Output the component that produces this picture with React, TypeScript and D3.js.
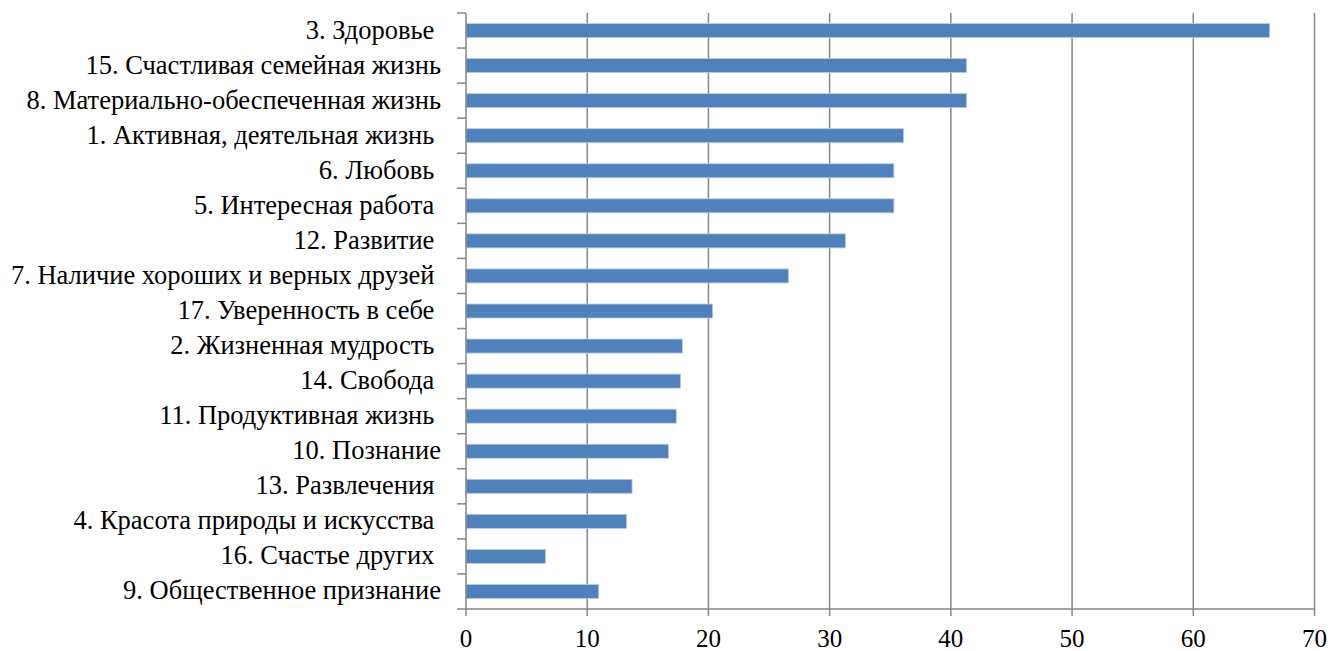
import React from "react";
import * as d3 from "d3";

const categories = [
  "3. Здоровье ",
  "15. Счастливая семейная жизнь",
  "8. Материально-обеспеченная жизнь",
  "1. Активная, деятельная жизнь ",
  "6. Любовь ",
  "5. Интересная работа ",
  "12. Развитие ",
  "7. Наличие хороших и верных друзей ",
  "17. Уверенность в себе ",
  "2. Жизненная мудрость ",
  "14. Свобода ",
  "11. Продуктивная жизнь ",
  "10. Познание",
  "13. Развлечения ",
  "4. Красота природы и искусства ",
  "16. Счастье других ",
  "9. Общественное признание",
];

const values = [66.3, 41.3, 41.3, 36.1, 35.3, 35.3, 31.3, 26.6, 20.35, 17.85, 17.7, 17.35, 16.7, 13.7, 13.25, 6.55, 10.95];

const xTicks = [0, 10, 20, 30, 40, 50, 60, 70];

const W = 1331;
const H = 651;
const left = 466;
const right = 1314.5;
const top = 13;
const bottom = 609;

export default function App() {
  const x = d3.scaleLinear().domain([0, 70]).range([left, right]);
  const y = d3.scaleBand<string>().domain(categories).range([top, bottom]).paddingInner(0.6).paddingOuter(0.3);
  const band = (bottom - top) / categories.length;
  const grid = "#868686";
  const font = '"Liberation Serif", "Times New Roman", Times, serif';
  const labelStyle: React.CSSProperties = { fontFamily: font, fontSize: "26.5px", whiteSpace: "pre" };
  const tickStyle: React.CSSProperties = { fontFamily: font, fontSize: "25px" };
  return (
    <svg width={W} height={H} style={{ position: "absolute", left: 0, top: 0, background: "#fff" }}>
      {xTicks.slice(1).map((t) => (
        <line key={"g" + t} x1={x(t)} x2={x(t)} y1={top} y2={bottom} stroke={grid} strokeWidth={1.5} />
      ))}
      {categories.map((c, i) => (
        <rect
          key={c}
          x={x(0)}
          y={y(c)!}
          width={x(values[i]) - x(0)}
          height={y.bandwidth()}
          fill="#4F81BD"
          stroke="#B9CDE5"
          strokeWidth={0.8}
        />
      ))}
      <line x1={left} x2={left} y1={top} y2={bottom} stroke={grid} strokeWidth={1.5} />
      {d3.range(categories.length + 1).map((i) => (
        <line key={"yt" + i} x1={left - 9} x2={left} y1={top + i * band} y2={top + i * band} stroke={grid} strokeWidth={1.5} />
      ))}
      <line x1={left} x2={right} y1={bottom} y2={bottom} stroke={grid} strokeWidth={1.5} />
      {xTicks.map((t) => (
        <g key={"xt" + t}>
          <line x1={x(t)} x2={x(t)} y1={bottom} y2={bottom + 7} stroke={grid} strokeWidth={1.5} />
          <text x={x(t)} y={647} textAnchor="middle" style={tickStyle} fill="#000">
            {t}
          </text>
        </g>
      ))}
      {categories.map((c) => (
        <text
          key={"l" + c}
          x={441}
          y={y(c)! + y.bandwidth() / 2 + 8}
          textAnchor="end"
          style={labelStyle}
          fill="#000"
        >
          {c}
        </text>
      ))}
    </svg>
  );
}
